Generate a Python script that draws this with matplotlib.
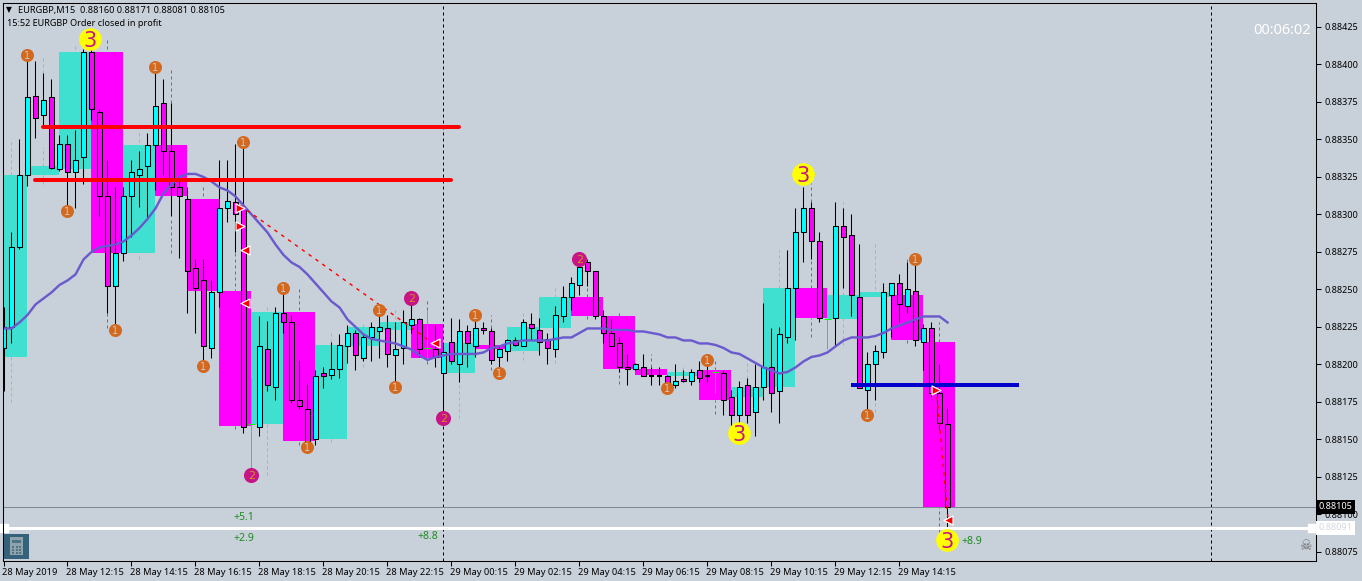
import matplotlib
matplotlib.use("Agg")
import matplotlib.pyplot as plt
import matplotlib.transforms as mtrans
from matplotlib.patches import Rectangle

# ---- data, in units of 0.00001 ----
highs = [88238,88288,88350,88406,88402,88394,88390,88353,88353,88356,88410,88411,88370,88336,88318,88318,88336,88342,88354,88398,
         88390,88374,88324,88318,88270,88270,88256,88336,88336,88347,88348,88191,88232,88229,88238,88255,88233,88203,88187,88196,
         88198,88215,88220,88226,88223,88221,88228,88236,88233,88228,88236,88243,88231,88236,88226,88213,88231,88230,88226,88233,
         88228,88224,88212,88217,88218,88230,88234,88231,88221,88239,88252,88258,88271,88270,88262,88236,88230,88218,88207,88201,
         88207,88198,88198,88193,88200,88196,88197,88202,88199,88196,88196,88183,88189,88191,88200,88241,88224,88225,88276,88304,
         88318,88308,88288,88230,88308,88304,88300,88280,88208,88213,88254,88254,88260,88268,88271,88227,88228,88200,88171]
lows = [88182,88214,88277,88319,88351,88359,88330,88329,88305,88304,88320,88363,88299,88234,88223,88269,88285,88305,88298,88316,
        88326,88299,88271,88234,88221,88199,88204,88238,88295,88275,88154,88131,88152,88182,88176,88221,88174,88170,88145,88146,
        88184,88190,88191,88201,88196,88202,88202,88204,88198,88185,88200,88221,88205,88203,88198,88168,88200,88188,88198,88205,
        88220,88200,88195,88202,88212,88212,88216,88206,88200,88205,88228,88236,88246,88252,88230,88214,88212,88195,88186,88196,
        88192,88186,88186,88183,88184,88188,88186,88188,88188,88181,88166,88158,88160,88161,88152,88176,88168,88161,88214,88216,
        88268,88270,88228,88210,88213,88251,88232,88184,88163,88176,88204,88218,88228,88234,88212,88196,88178,88156,88081]
opens = [88211,88225,88278,88326,88379,88366,88378,88330,88347,88328,88338,88408,88368,88312,88252,88274,88312,88326,88332,88346,
         88374,88342,88318,88310,88264,88256,88211,88248,88304,88308,88304,88160,88158,88210,88185,88234,88228,88176,88170,88150,
         88194,88193,88197,88212,88221,88204,88218,88222,88224,88206,88211,88226,88230,88211,88210,88194,88215,88200,88222,88212,
         88224,88222,88205,88209,88216,88212,88227,88223,88217,88210,88232,88245,88253,88268,88262,88232,88221,88214,88198,88197,
         88198,88192,88192,88192,88186,88190,88189,88196,88192,88195,88194,88178,88166,88186,88168,88185,88198,88182,88218,88251,
         88288,88304,88282,88230,88231,88292,88286,88245,88183,88200,88208,88246,88254,88239,88249,88215,88224,88181,88160]
closes = [88225,88278,88326,88378,88364,88376,88331,88347,88328,88336,88408,88370,88312,88252,88274,88312,88328,88330,88346,88372,
          88342,88318,88312,88262,88251,88212,88248,88304,88309,88300,88158,88160,88212,88186,88234,88228,88176,88172,88148,88192,
          88192,88197,88213,88221,88206,88218,88225,88225,88207,88210,88228,88230,88210,88211,88205,88208,88202,88222,88214,88224,
          88223,88203,88210,88216,88213,88228,88224,88215,88211,88233,88245,88254,88265,88262,88232,88221,88212,88198,88197,88200,
          88192,88192,88192,88187,88189,88189,88195,88191,88192,88195,88176,88166,88185,88166,88185,88198,88181,88220,88251,88288,
          88304,88282,88231,88230,88292,88285,88246,88184,88200,88209,88248,88254,88240,88250,88216,88224,88181,88161,88105]
green_bars = [31, 53, 89, 103]

moving_avg = [88224,88224,88228,88233,88240,88244,88248,88253,88256,88260,88270,88275,88278,88279,88280,88282,88286,88291,88297,88304,
              88314,88320,88325,88327,88327,88325,88322,88318,88316,88312,88306,88300,88294,88288,88280,88273,88268,88265,88260,88254,
              88248,88242,88238,88230,88225,88220,88217,88216,88215,88214,88212,88210,88206,88203,88205,88206,88207,88207,88207,88207,
              88208,88211,88212,88214,88215,88216,88216,88216,88216,88217,88218,88218,88221,88224,88224,88224,88223,88223,88223,88222,
              88222,88221,88220,88218,88218,88216,88216,88214,88214,88213,88211,88208,88207,88204,88201,88198,88196,88194,88195,88198,
              88202,88205,88206,88208,88212,88216,88218,88218,88218,88219,88221,88224,88226,88228,88230,88232,88232,88232,88228]

hour_open = [88205,88326,88330,88408,88274,88346,88310,88249,88160,88235,88150,88212,88223,88227,88194,88213,88209,88224,88245,88232,
             88197,88192,88196,88178,88185,88251,88230,88245,88246,88215]
hour_close = [88326,88332,88408,88274,88346,88312,88249,88159,88235,88149,88213,88225,88228,88204,88214,88210,88225,88245,88232,88197,
              88193,88195,88176,88185,88251,88231,88246,88248,88216,88105]

teal_bars = [1,1,5,5,9,17,17,33,33,41,41,45,45,49,57,65,65,69,69,85,93,97,105,105,105,109,109]
teal_top  = [88350,88205,88406,88345,88412,88354,88274,88238,88160,88221,88150,88228,88203,88236,88200,88234,88210,88252,88210,88200,88203,88276,88308,88251,88231,88280,88176]
teal_bot  = [88326,88175,88378,88320,88410,88348,88270,88228,88126,88215,88148,88221,88198,88230,88164,88228,88203,88245,88201,88196,88191,88251,88303,88246,88213,88250,88168]
mag_bars = [13,13,21,21,25,29,29,37,37,53,53,61,61,73,73,77,77,81,81,89,89,101,101,101,113,113,117,117]
mag_top  = [88416,88234,88398,88298,88318,88275,88159,88250,88148,88244,88210,88233,88202,88251,88232,88236,88198,88207,88193,88203,88176,88321,88270,88231,88272,88216,88228,88105]
mag_bot  = [88410,88224,88374,88274,88312,88248,88157,88236,88146,88228,88200,88224,88196,88245,88230,88232,88187,88198,88188,88196,88167,88308,88251,88218,88268,88214,88215,88088]

one_bars = [3,8,19,14,30,25,35,38,47,49,59,62,83,88,108,114]
one_vals = [88406,88302,88398,88223,88348,88199,88251,88145,88236,88185,88233,88194,88184,88203,88166,88270]
two_bars = [31,51,55,72]
two_vals = [88126,88244,88164,88270]
three_bars = [10.85,99.9,91.9,117.9]
three_vals = [88417,88327,88154,88083]

right_arrow_bars = [29.6,29.6,116.6]
right_arrow_vals = [88304,88292,88183]
left_arrow_bars = [30.2,30.2,54.0,118.1]
left_arrow_vals = [88276,88241,88214,88096]
trade_bars = [[29.6,54.0],[116.6,118.1]]
trade_vals = [[88306,88213],[88184,88095]]

red_levels = [88358,88323]
red_spans = [[5,57],[4,56]]
blue_level = 88186
blue_span = [106,127]
session_bars = [55,151]
ask_price, bid_price = 88091, 88105
profit_bars = [30,30,53,121]
profit_vals = [88098,88084,88085,88082]
profit_text = ["+5.1","+2.9","+8.8","+8.9"]
ytick_vals = list(range(88075,88426,25))
xtick_bars = list(range(0,120,8))
xtick_text = ["28 May 2019","28 May 12:15","28 May 14:15","28 May 16:15","28 May 18:15","28 May 20:15","28 May 22:15",
              "29 May 00:15","29 May 02:15","29 May 04:15","29 May 06:15","29 May 08:15","29 May 10:15","29 May 12:15","29 May 14:15"]
title_text = "EURGBP,M15  0.88160 0.88171 0.88081 0.88105"
note_text = "15:52 EURGBP Order closed in profit"
timer_text = "00:06:02"

# ---- style ----
W, H = 1362, 581
BG = "#C8D0D9"
TURQ, MAG, CYAN = "#40E0D0", "#FF00FF", "#00FFFF"
FONT = "Noto Sans"
PX = 0.72
plt.rcParams["font.family"] = [FONT, "DejaVu Sans"]

fig = plt.figure(figsize=(W/100, H/100), dpi=100, facecolor=BG)
L, R, T, B = 2.5, 1316.5, 2.5, 560.5
ax = fig.add_axes([L/W, (H-B)/H, (R-L)/W, (B-T)/H], facecolor=BG)
ax.set_xlim(-0.125, 164.125)
ax.set_ylim(88069.3/1e5, 88441.3/1e5)
def P(v):
    return [a/1e5 for a in v] if isinstance(v, (list, tuple)) else v/1e5
def fx(x): return x/W
def fy(y): return (H-y)/H

# hourly boxes
for k, (o, c) in enumerate(zip(hour_open, hour_close)):
    ax.bar(-1+4*k, (c-o)/1e5, bottom=o/1e5, width=4, align="edge",
           color=TURQ if c >= o else MAG, lw=0, zorder=1)

# dashed indicator extensions
ax.vlines(teal_bars, P(teal_bot), P(teal_top), color=TURQ, lw=1*PX, linestyles=(0,(3,3)), zorder=2)
ax.vlines(mag_bars, P(mag_bot), P(mag_top), color="#E020E0", lw=1*PX, linestyles=(0,(3,3)), zorder=2)

# candles
for i, (o, h, l, c) in enumerate(zip(opens, highs, lows, closes)):
    if i in green_bars:
        ln = ax.vlines(i, l/1e5, h/1e5, color="#00FF00", lw=1*PX, zorder=3); ln.set_snap(True)
        ax.hlines(o/1e5, i-0.38, i+0.38, color="#00FF00", lw=1*PX, zorder=3)
        continue
    ln = ax.vlines(i, l/1e5, h/1e5, color="black", lw=1.05*PX, zorder=3); ln.set_snap(True)
    if o == c:
        ax.hlines(o/1e5, i-0.3, i+0.3, color="black", lw=2*PX, zorder=3.2)
    else:
        ax.bar(i, abs(c-o)/1e5, bottom=min(o, c)/1e5, width=0.56, color=CYAN if c > o else MAG,
               edgecolor="black", lw=1.05*PX, zorder=3.2)

# moving average
ax.plot(range(len(moving_avg)), P(moving_avg), color="#6A5ACD", lw=2.4*PX, zorder=4)

# trade lines
for bx, vx in zip(trade_bars, trade_vals):
    ax.plot(bx, P(vx), color="red", lw=1.4*PX, ls=(0,(2.5,3.5)), zorder=4.5)

# level lines
for lev, sp in zip(red_levels, red_spans):
    ax.plot(sp, [lev/1e5]*2, color="#FF0000", lw=4*PX, solid_capstyle="round", zorder=5)
ax.plot(blue_span, [blue_level/1e5]*2, color="#0000CD", lw=4*PX, solid_capstyle="butt", zorder=5)

# session separators, bid and ask lines
for s in session_bars:
    ax.axvline(s, color="black", lw=1*PX, ls=(0,(3,3)), zorder=2.5)
ax.axhline(bid_price/1e5, color="#7C8896", lw=1*PX, zorder=2.6)
ax.axhline(ask_price/1e5, color="white", lw=3*PX, zorder=5)
ax.plot([0, 163.6], [ask_price/1e5]*2, ls="none", marker="s", ms=5.5, color="white", zorder=5.2, clip_on=False)

# arrows
ax.scatter(right_arrow_bars, P(right_arrow_vals), marker=">", s=42, c="red", edgecolors="white", linewidths=0.9, zorder=6)
ax.scatter(left_arrow_bars, P(left_arrow_vals), marker="<", s=42, c="red", edgecolors="white", linewidths=0.9, zorder=6)

# numbered circles
def circles(bars, vals, color, size, txt, tcolor, fs):
    ax.scatter(bars, P(vals), s=size, c=color, linewidths=0, zorder=7)
    for b, v in zip(bars, vals):
        ax.text(b, v/1e5, txt, color=tcolor, fontsize=fs, ha="center", va="center_baseline", zorder=8,
                family=["DejaVu Sans"])
circles(one_bars, one_vals, "#D2691E", 88, "1", "#C9C9C9", 7)
circles(two_bars, two_vals, "#C71585", 118, "2", "#D98A2B", 8)
circles(three_bars, three_vals, "#FFFF00", 265, "3", "#C71585", 15)

# profit labels
for b, v, t in zip(profit_bars, profit_vals, profit_text):
    ax.text(b, v/1e5, t, color="#1E8B22", fontsize=7.6, ha="center", va="center", zorder=8)

# axes
ax.yaxis.tick_right()
ax.set_yticks(P(ytick_vals))
ax.set_yticklabels([f"{v/1e5:.5f}" for v in ytick_vals], fontsize=6.5)
ax.set_xticks(xtick_bars)
ax.set_xticklabels(xtick_text, fontsize=6.7, ha="left")
ax.tick_params(axis="y", length=3.5, width=0.75, pad=2.5, colors="black")
ax.tick_params(axis="x", length=3.5, width=0.75, pad=2, colors="black")
off = mtrans.ScaledTranslation(-1.5/100, 0, fig.dpi_scale_trans)
for lab in ax.get_xticklabels():
    lab.set_transform(lab.get_transform() + off)
for s in ax.spines.values():
    s.set_linewidth(0.75); s.set_color("black")
    s.set_zorder(9)

# price tags
ytr = ax.get_yaxis_transform()
ax.text(1.0018, ask_price/1e5, f"{ask_price/1e5:.5f}", transform=ytr, fontsize=6.5, color="#D3D8DE", va="center", ha="left", zorder=10,
        clip_on=False, bbox=dict(fc="white", ec="none", boxstyle="square,pad=0.28"))
ax.text(1.0018, bid_price/1e5, f"{bid_price/1e5:.5f}", transform=ytr, fontsize=6.5, color="white", va="center", ha="left", zorder=11,
        clip_on=False, bbox=dict(fc="black", ec="none", boxstyle="square,pad=0.28"))

# header
fig.text(fx(6), fy(10), "\u25BC", fontsize=5.5, color="black", va="center", ha="left", family=["DejaVu Sans"])
fig.text(fx(18), fy(10), title_text, fontsize=6.6, color="black", va="center", ha="left")
fig.text(fx(7), fy(23), note_text, fontsize=6.5, color="black", va="center", ha="left")
fig.text(fx(1311), fy(31), timer_text, fontsize=10.5, color="white", va="center", ha="right")
fig.text(fx(1305), fy(546), "\u2620", fontsize=10, color="#6E6E6E", va="center", ha="center", family=["DejaVu Sans"])

# calculator button
fig.add_artist(Rectangle((fx(4), fy(559)), 25/W, 25/H, transform=fig.transFigure, fc="#33627A", ec="none", zorder=20))
fig.add_artist(Rectangle((fx(10), fy(555)), 13/W, 18/H, transform=fig.transFigure, fc="#8FA3AC", ec="none", zorder=21))
fig.add_artist(Rectangle((fx(12), fy(543)), 9/W, 3/H, transform=fig.transFigure, fc="#4F7488", ec="none", zorder=22))
for cx in (12, 15.5, 19):
    for cy in (548, 551, 554):
        fig.add_artist(Rectangle((fx(cx), fy(cy)), 2/W, 2/H, transform=fig.transFigure, fc="#4F7488", ec="none", zorder=22))

fig.savefig("out.png", dpi=100, facecolor=BG)
